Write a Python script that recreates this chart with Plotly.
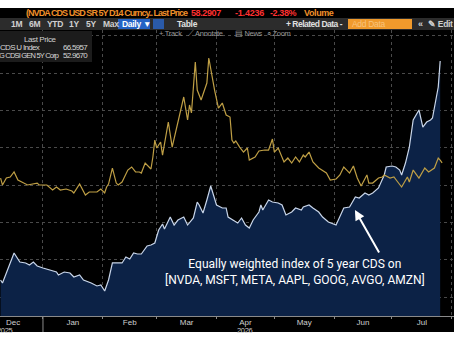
import plotly.graph_objects as go

# ---------------- data ----------------
cds_index_dates = [
    "2025-12-10", "2025-12-11", "2025-12-17", "2025-12-20", "2025-12-23", "2025-12-25", "2025-12-27",
    "2025-12-29", "2026-01-01", "2026-01-04", "2026-01-08", "2026-01-09", "2026-01-12", "2026-01-15",
    "2026-01-17", "2026-01-20", "2026-01-22", "2026-01-26", "2026-01-29", "2026-01-31", "2026-02-02",
    "2026-02-04", "2026-02-06", "2026-02-08", "2026-02-11", "2026-02-13", "2026-02-15", "2026-02-17",
    "2026-02-19", "2026-02-21", "2026-02-24", "2026-02-26", "2026-02-28", "2026-03-02", "2026-03-04",
    "2026-03-05", "2026-03-08", "2026-03-10", "2026-03-12", "2026-03-15", "2026-03-17", "2026-03-20",
    "2026-03-22", "2026-03-23", "2026-03-25", "2026-03-27", "2026-03-29", "2026-04-01", "2026-04-04",
    "2026-04-06", "2026-04-07", "2026-04-12", "2026-04-14", "2026-04-16", "2026-04-18", "2026-04-20",
    "2026-04-23", "2026-04-24", "2026-04-25", "2026-04-28", "2026-04-30", "2026-05-03", "2026-05-05",
    "2026-05-07", "2026-05-10", "2026-05-12", "2026-05-15", "2026-05-16", "2026-05-19", "2026-05-21",
    "2026-05-24", "2026-05-26", "2026-05-29", "2026-06-02", "2026-06-05", "2026-06-06", "2026-06-09",
    "2026-06-11", "2026-06-12", "2026-06-14", "2026-06-17", "2026-06-19", "2026-06-21", "2026-06-24",
    "2026-06-25", "2026-06-27", "2026-06-28", "2026-07-01", "2026-07-03", "2026-07-05", "2026-07-06",
    "2026-07-08", "2026-07-10", "2026-07-12", "2026-07-15", "2026-07-16", "2026-07-17", "2026-07-19",
    "2026-07-21", "2026-07-22", "2026-07-23", "2026-07-25", "2026-07-26",
]
cds_index_values = [
    37.29, 36.89, 40.90, 39.70, 39.57, 39.30, 39.70,
    39.16, 38.90, 38.63, 38.36, 37.96, 38.36, 38.23,
    37.69, 37.96, 37.29, 36.89, 36.49, 36.62, 35.82,
    37.29, 39.57, 39.57, 39.57, 40.37, 40.10, 40.90,
    40.77, 40.77, 41.84, 41.97, 42.24, 43.98, 44.79,
    44.12, 45.72, 44.65, 45.32, 45.72, 44.65, 45.59,
    47.73, 47.33, 46.26, 48.00, 49.87, 47.33, 46.93,
    46.93, 45.72, 44.92, 45.59, 44.65, 44.25, 45.32,
    46.39, 47.33, 46.66, 48.00, 47.73, 47.60, 47.33,
    45.99, 46.39, 46.93, 46.66, 47.06, 47.33, 46.93,
    46.39, 45.72, 45.05, 44.65, 46.26, 46.93, 47.06,
    48.00, 48.40, 48.27, 48.94, 48.67, 48.94, 49.61,
    50.27, 51.35, 52.42, 52.55, 52.42, 52.01, 51.35,
    52.95, 55.09, 58.71, 60.05, 58.98, 57.77, 58.44,
    58.71, 58.98, 60.31, 63.13, 66.60,
]

gen_dates = [
    "2025-12-10", "2025-12-11", "2025-12-13", "2025-12-15", "2025-12-17", "2025-12-19", "2025-12-21",
    "2025-12-24", "2025-12-29", "2025-12-30", "2026-01-03", "2026-01-06", "2026-01-08", "2026-01-10",
    "2026-01-13", "2026-01-16", "2026-01-17", "2026-01-20", "2026-01-23", "2026-01-25", "2026-01-29",
    "2026-01-31", "2026-02-02", "2026-02-03", "2026-02-04", "2026-02-06", "2026-02-08", "2026-02-09",
    "2026-02-11", "2026-02-14", "2026-02-16", "2026-02-18", "2026-02-20", "2026-02-21", "2026-02-23",
    "2026-02-26", "2026-02-27", "2026-02-28", "2026-03-01", "2026-03-03", "2026-03-04", "2026-03-07",
    "2026-03-09", "2026-03-11", "2026-03-14", "2026-03-15", "2026-03-17", "2026-03-18", "2026-03-19",
    "2026-03-21", "2026-03-22", "2026-03-24", "2026-03-27", "2026-03-28", "2026-03-31", "2026-04-02",
    "2026-04-04", "2026-04-06", "2026-04-08", "2026-04-09", "2026-04-10", "2026-04-11", "2026-04-13",
    "2026-04-15", "2026-04-17", "2026-04-18", "2026-04-21", "2026-04-23", "2026-04-26", "2026-04-28",
    "2026-04-30", "2026-05-01", "2026-05-03", "2026-05-06", "2026-05-08", "2026-05-10", "2026-05-12",
    "2026-05-14", "2026-05-16", "2026-05-17", "2026-05-19", "2026-05-21", "2026-05-24", "2026-05-28",
    "2026-05-30", "2026-06-02", "2026-06-04", "2026-06-06", "2026-06-09", "2026-06-11", "2026-06-13",
    "2026-06-15", "2026-06-18", "2026-06-19", "2026-06-21", "2026-06-24", "2026-06-26", "2026-06-27",
    "2026-06-30", "2026-07-02", "2026-07-04", "2026-07-06", "2026-07-09", "2026-07-10", "2026-07-12",
    "2026-07-15", "2026-07-18", "2026-07-20", "2026-07-23", "2026-07-25", "2026-07-26", "2026-07-27",
]
gen_values = [
    50.94, 50.01, 50.94, 51.08, 51.75, 50.68, 50.41,
    50.01, 50.27, 50.01, 50.01, 49.34, 49.74, 49.34,
    49.47, 49.20, 48.94, 50.14, 48.67, 49.07, 49.07,
    49.47, 48.94, 49.74, 50.14, 52.28, 50.27, 50.01,
    50.41, 52.01, 52.42, 51.75, 51.75, 51.61, 52.95,
    52.15, 53.76, 56.03, 54.96, 55.76, 54.02, 58.44,
    55.09, 57.37, 60.98, 61.79, 58.71, 60.72, 59.65,
    66.47, 62.72, 61.39, 63.66, 67.01, 62.72, 60.31,
    60.98, 59.38, 59.11, 56.03, 55.63, 55.90, 55.09,
    54.42, 54.96, 53.35, 53.76, 54.56, 54.69, 54.69,
    56.16, 54.42, 54.96, 53.09, 53.62, 52.95, 53.76,
    53.09, 54.02, 53.76, 54.42, 53.09, 52.28, 51.61,
    50.68, 50.81, 51.35, 52.42, 51.61, 52.55, 50.94,
    49.87, 51.35, 50.27, 50.27, 50.94, 51.08, 51.35,
    50.94, 51.08, 50.41, 49.74, 51.08, 50.41, 52.01,
    50.94, 52.28, 51.75, 52.28, 53.62, 53.35, 52.97,
]

annotation_lines = [
    "Equally weighted index of 5 year CDS on",
    "[NVDA, MSFT, META, AAPL, GOOG, AVGO, AMZN]",
]

# ---------------- layout helpers (pixel -> paper) ----------------
W, H = 454, 341
PLOT_TOP, PLOT_BOTTOM = 30, 316


def px(x):
    return x / W


def py(y):
    return (PLOT_BOTTOM - y) / (PLOT_BOTTOM - PLOT_TOP)


UI_FONT = "Liberation Sans, Arial, sans-serif"

fig = go.Figure()
fig.add_trace(go.Scatter(
    x=cds_index_dates, y=cds_index_values, mode="lines",
    line=dict(color="#c9d6ea", width=1.2),
    fill="tozeroy", fillcolor="#0c2246",
    name="CDS U Index", hoverinfo="skip",
))
fig.add_trace(go.Scatter(
    x=gen_dates, y=gen_values, mode="lines",
    line=dict(color="#bf9f45", width=1.2),
    name="G CDSI GEN 5Y Corp", hoverinfo="skip",
))

shapes = []
annotations = []


def rect(x0, y0, x1, y1, color, layer="below"):
    shapes.append(dict(type="rect", xref="paper", yref="paper",
                       x0=px(x0), x1=px(x1), y0=py(y1), y1=py(y0),
                       fillcolor=color, line=dict(width=0), layer=layer))


def text(x, y, s, color="#d8d8d8", size=9, anchor="left", bold=False, ls=-0.6):
    s = '<span style="letter-spacing:%.2fpx">%s</span>' % (ls, s)
    annotations.append(dict(xref="paper", yref="paper", x=px(x), y=py(y), text=s,
                            showarrow=False, xanchor=anchor, yanchor="middle",
                            align=anchor, borderpad=0,
                            font=dict(color=color, size=size, family=UI_FONT,
                                      weight="bold" if bold else "normal")))


# header bars (outside the plot area)
rect(0, 8, W, 18, "#000000")
rect(0, 18, W, 30, "#2c2c2c")
rect(0, 316, W, 332, "#000000")
# legend box (inside plot area)
rect(0, 31, 92, 62, "#1c1c1c", layer="above")

# header row texts
text(25, 13, "(NVDA CDS USD SR 5Y D14 Curncy.. Last Price", "#f0902a", 9, bold=True, ls=-0.95)
text(190, 13, "58.2907", "#ff3030", 9, bold=True, ls=-0.4)
text(234, 13, "-1.4236", "#ff3030", 9, bold=True, ls=-0.2)
text(269, 13, "-2.38%", "#ff3030", 9, bold=True, ls=-0.4)
text(303, 13, "Volume", "#f0902a", 9, bold=True, ls=-0.4)

# toolbar
for lbl, xx in [("1M", 10), ("6M", 28), ("YTD", 46), ("1Y", 68), ("5Y", 85), ("Max", 102)]:
    text(xx, 24, lbl, "#d0d0d0", 8.5, bold=True, ls=-0.3)
rect(118, 19, 150, 29, "#2563c4")
text(121, 24, "Daily \u25bc", "#ffffff", 8.5, bold=True, ls=-0.3)
rect(153, 19, 164, 29, "#2a5aa8")
text(176, 24, "Table", "#e0e0e0", 8.5, bold=True, ls=-0.3)
text(285, 24, "+ Related Data -", "#e0e0e0", 8.5, bold=True, ls=-0.5)
rect(348, 19, 412, 29, "#f09a2c")
text(351, 24, "Add Data", "#f8c47e", 8.5, ls=-0.3)
text(417, 24, "\u00ab", "#d0d0d0", 9, bold=True, ls=0)
text(427, 24, "\u270e Edit", "#d0d0d0", 8.5, bold=True, ls=-0.3)

# track row
text(158, 34, "+ Track", "#9a9a9a", 7.5, ls=-0.3)
text(187, 34, "\u27cb Annotate", "#9a9a9a", 7.5, ls=-0.3)
text(234, 34, "\u25a4 News", "#9a9a9a", 7.5, ls=-0.3)
text(266, 34, "\u2315 Zoom", "#9a9a9a", 7.5, ls=-0.3)

# legend texts
text(40, 39, "Last Price", "#d0d0d0", 8, anchor="center", ls=-0.4)
text(-1, 47, "CDS U Index", "#d8d8d8", 8, ls=-0.7)
text(89, 47, "66.5957", "#d8d8d8", 8, anchor="right", ls=-0.7)
text(-2, 55, "G CDSI GEN 5Y Corp", "#d8d8d8", 7.5, ls=-0.8)
text(89, 55, "52.9670", "#d8d8d8", 8, anchor="right", ls=-0.7)

# year labels
text(5, 330, "2025", "#c8c8c8", 7.5, anchor="center", ls=-0.3)
text(245, 330, "2026", "#c8c8c8", 7.5, anchor="center", ls=-0.3)

# year separator
shapes.append(dict(type="line", xref="x", yref="paper", x0="2026-01-01", x1="2026-01-01",
                   y0=py(332), y1=py(316), line=dict(color="#8a8a8a", width=1), layer="above"))

# explanatory annotation
annotations.append(dict(xref="paper", yref="paper", x=px(295), y=py(272),
                        text="<br>".join(annotation_lines), showarrow=False,
                        xanchor="center", yanchor="middle", align="center",
                        font=dict(color="#ffffff", size=12, family="Roboto, sans-serif")))
# arrow
annotations.append(dict(xref="x", yref="y", x="2026-06-11 19:00", y=46.66, text="",
                        showarrow=True, arrowhead=2, arrowsize=1, arrowwidth=2,
                        arrowcolor="#ffffff", ax=25, ay=44, axref="pixel", ayref="pixel"))

fig.update_layout(
    width=W, height=H,
    margin=dict(l=0, r=0, t=PLOT_TOP, b=H - PLOT_BOTTOM, pad=0),
    paper_bgcolor="#ffffff", plot_bgcolor="#000000",
    showlegend=False,
    shapes=shapes, annotations=annotations,
    xaxis=dict(
        type="date", range=["2025-12-09 17:00", "2026-08-02 04:00"],
        dtick="M1", tick0="2025-12-01", ticklabelmode="period", tickformat="%b",
        showgrid=True, gridcolor="#4a4a4a", griddash="dot", gridwidth=1,
        ticks="outside", ticklen=2, tickcolor="#8a8a8a", ticklabelstandoff=-4,
        showline=True, linecolor="#8a8a8a", linewidth=1,
        tickfont=dict(color="#cfcfcf", size=8, family=UI_FONT),
        zeroline=False, fixedrange=True,
    ),
    yaxis=dict(
        range=[32.47, 70.76], dtick=5, tick0=0,
        showgrid=True, gridcolor="#4a4a4a", griddash="dot", gridwidth=1,
        showticklabels=False, zeroline=False, ticks="", fixedrange=True,
    ),
)

fig.write_html("out.html")
